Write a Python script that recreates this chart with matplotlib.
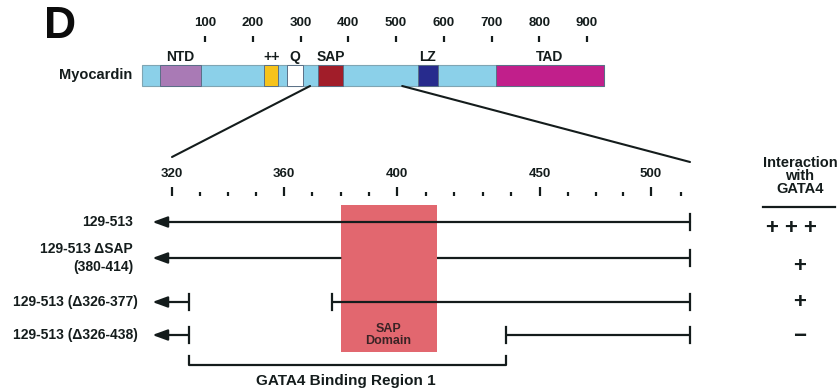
import matplotlib
matplotlib.use("Agg")
import matplotlib.pyplot as plt
import matplotlib.transforms as mtransforms
from matplotlib.patches import ConnectionPatch
import numpy as np

plt.rcParams['font.family'] = ['Liberation Sans', 'DejaVu Sans']
plt.rcParams['font.weight'] = 'bold'

# ---------------- data ----------------
protein_name = "Myocardin"
protein_span = (-32, 935)
domain_names = ["NTD", "++", "Q", "SAP", "LZ", "TAD"]
domain_starts = [6, 224, 272, 337, 546, 709]
domain_ends = [92, 253, 305, 390, 588, 935]
domain_colors = ["#a97ab5", "#f6c31b", "#ffffff", "#a11d29", "#272b8d", "#c11f8b"]
overview_ticks = [100, 200, 300, 400, 500, 600, 700, 800, 900]

zoom_window = (320, 513)
detail_major_ticks = [320, 360, 400, 450, 500]
detail_minor_ticks = [330, 340, 350, 370, 380, 390, 410, 420, 430, 440,
                      462.5, 475, 487.5, 510]
sap_region = (380, 414)
construct_labels = ["129-513", "129-513 \u0394SAP\n(380-414)",
                    "129-513 (\u0394326-377)", "129-513 (\u0394326-438)"]
construct_segments = [[(129, 513)],
                      [(129, 380), (414, 513)],
                      [(129, 326), (377, 513)],
                      [(129, 326), (438, 513)]]
interaction = ["+ + +", "+", "+", "\u2212"]
binding_region = (326, 438)
binding_label = "GATA4 Binding Region 1"

# ---------------- layout ----------------
W, H = 839, 392
fig = plt.figure(figsize=(W / 100, H / 100), dpi=100)
ink = "#141c1c"
light_blue = "#8bd0e9"

# overview axis: linear residue scale, y measured in pixel rows
ov_origin, ov_scale = 157.25, 0.4775
ax_top = fig.add_axes([0, 0, 1, 1 - 42 / H])
ax_top.set_xlim(-ov_origin / ov_scale, (W - ov_origin) / ov_scale)
ax_top.set_ylim(H, 42)

# detail axis: piecewise residue scale of the schematic
res_bp = np.array([200, 320, 360, 400, 450, 500, 513, 700], dtype=float)
px_bp = np.array([-164, 172, 284, 397, 540, 651, 690, 1251], dtype=float)


def fwd(x):
    return np.interp(x, res_bp, px_bp)


def inv(p):
    return np.interp(p, px_bp, res_bp)


ax_low = fig.add_axes([0, 0, 1, 1 - 196 / H])
ax_low.set_xscale('function', functions=(fwd, inv))
ax_low.set_xlim(inv(0), inv(W))
ax_low.set_ylim(H, 196)

for ax in (ax_top, ax_low):
    ax.patch.set_visible(False)
    for s in ax.spines.values():
        s.set_visible(False)
    ax.yaxis.set_visible(False)
    ax.xaxis.set_ticks_position('top')
    ax.xaxis.set_label_position('top')

ax_top.set_xticks(overview_ticks)
ax_top.set_xticklabels([str(t) for t in overview_ticks])
ax_top.tick_params(axis='x', direction='out', length=4, width=1.6, pad=5,
                   labelsize=9.5, colors=ink)

ax_low.set_xticks(detail_major_ticks)
ax_low.set_xticklabels([str(t) for t in detail_major_ticks])
ax_low.set_xticks(detail_minor_ticks, minor=True)
ax_low.tick_params(axis='x', which='major', direction='out', length=6.5,
                   width=1.6, pad=5, labelsize=9.5, colors=ink)
ax_low.tick_params(axis='x', which='minor', direction='out', length=2.8,
                   width=1.6, colors=ink)

# ---------------- overview bar ----------------
bar_y, bar_h = 75.5, 21
ax_top.barh(bar_y, protein_span[1] - protein_span[0], left=protein_span[0],
            height=bar_h, color=light_blue, edgecolor="#7fa5b3", linewidth=0.8)
for name, s, e, c in zip(domain_names, domain_starts, domain_ends, domain_colors):
    ax_top.barh(bar_y, e - s, left=s, height=bar_h, color=c,
                edgecolor="#5a6f86", linewidth=0.7)
    ax_top.text((s + e) / 2, 57, name, ha='center', va='center',
                fontsize=10, color=ink)
ax_top.text(protein_span[0] - 21, bar_y, protein_name, ha='right', va='center',
            fontsize=10.5, color=ink)

fig.text(60 / W, 1 - 27 / H, "D", fontsize=32, ha='center', va='center',
         color="#0c0c0c")

# zoom lines from the overview to the detail axis
for xa, yb in ((zoom_window[0], 157), (zoom_window[1], 162)):
    con = ConnectionPatch(xyA=(xa, bar_y + bar_h / 2), coordsA=ax_top.transData,
                          xyB=(xa, yb), coordsB=ax_low.transData,
                          color=ink, lw=1.5)
    fig.add_artist(con)

# ---------------- detail panel ----------------
ax_low.bar(sap_region[0], 147, width=sap_region[1] - sap_region[0], bottom=205,
           align='edge', color="#e2676f", linewidth=0, zorder=1)
ax_low.text((sap_region[0] + sap_region[1]) / 2, 335, "SAP\nDomain",
            ha='center', va='center', fontsize=9, color="#3a2325",
            linespacing=1.1, zorder=3)

row_y = [222, 258, 302, 335]
arrow_tip = 313
label_x = [133, 133, 138, 138]
bar_half = 8
lw_line = 1.6

for lab, segs, y, lx in zip(construct_labels, construct_segments, row_y, label_x):
    ax_low.text(lx / W, y, lab, transform=mtransforms.blended_transform_factory(
        ax_low.transAxes, ax_low.transData), ha='right', va='center',
        fontsize=10, color=ink, linespacing=1.35)
    for s, e in segs:
        if s < zoom_window[0]:
            ax_low.annotate("", xy=(arrow_tip, y), xytext=(e, y),
                            arrowprops=dict(arrowstyle="-|>,head_length=0.9,head_width=0.33",
                                            color=ink, lw=lw_line,
                                            shrinkA=0, shrinkB=0),
                            zorder=4)
        else:
            ax_low.plot([s, e], [y, y], color=ink, lw=lw_line, zorder=4,
                        solid_capstyle='butt')
        for end in (s, e):
            if end >= zoom_window[0] and end not in sap_region:
                ax_low.plot([end, end], [y - bar_half, y + bar_half],
                            color=ink, lw=lw_line, zorder=4)

# binding region bracket
b0, b1 = binding_region
ax_low.plot([b0, b0, b1, b1], [356, 365, 365, 356], color=ink, lw=lw_line,
            zorder=4)
ax_low.text((b0 + b1) / 2, 381, binding_label, ha='center', va='center',
            fontsize=11, color=ink)

# interaction column
col = mtransforms.blended_transform_factory(ax_low.transAxes, ax_low.transData)
xc = 800 / W
ax_low.text(xc, 176, "Interaction\nwith\nGATA4", transform=col, ha='center',
            va='center', fontsize=10.5, color=ink, linespacing=0.88)
ax_low.plot([763 / W, 835 / W], [207, 207], transform=col, color=ink, lw=1.6,
            clip_on=False)
symbol_x = [791, 800, 800, 800]
symbol_y = [228, 266, 303, 336]
for sym, sx, sy in zip(interaction, symbol_x, symbol_y):
    ax_low.text(sx / W, sy, sym, transform=col, ha='center', va='center',
                fontsize=16, color=ink)

fig.savefig("out.png", dpi=100)
